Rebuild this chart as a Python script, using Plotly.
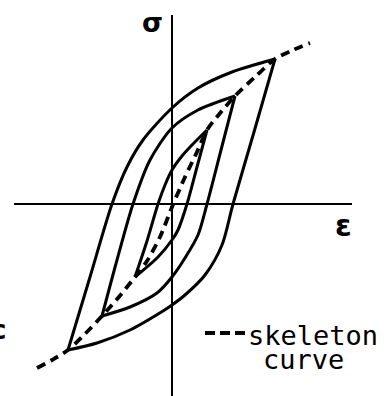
import plotly.graph_objects as go

# Hysteresis loops (strain eps, stress sig), one branch per list pair
outer_asc_eps = [-104, -82, -60, -45, -29, 0, 26, 60, 103]
outer_asc_sig = [-146, -73, 0, 37, 64, 96, 116, 132, 145]
outer_desc_eps = [103, 82, 61, 50, 33, 13, 0, -9, -42, -75, -104]
outer_desc_sig = [145, 72, 0, -41, -71, -91, -101, -107, -126, -139, -146]

middle_asc_eps = [-70, -55, -39, -22, 0, 26, 63]
middle_asc_sig = [-112, -56, 0, 44, 76, 94, 108]
middle_desc_eps = [63, 49, 35, 26, 13, 0, -15, -42, -70]
middle_desc_sig = [108, 54, 0, -31, -54, -73, -89, -103, -112]

inner_asc_eps = [-37, -25, -14, -7, 0, 10, 20, 35]
inner_asc_sig = [-73, -37, 0, 19, 34, 48, 59, 74]
inner_desc_eps = [35, 25, 15, 6, 0, -14, -37]
inner_desc_sig = [74, 37, 0, -26, -36, -53, -73]

# Skeleton curve through the loop tips
skeleton_eps = [-135, -120, -104, -87, -70, -54, -37, -25, -12, 0, 13, 25, 35, 49, 63, 83, 103, 121, 138]
skeleton_sig = [-164, -156, -146, -130, -112, -94, -73, -57, -33, -3, 27, 52, 74, 92, 108, 127, 145, 154, 161]

branches = [
    (outer_asc_eps, outer_asc_sig),
    (outer_desc_eps, outer_desc_sig),
    (middle_asc_eps, middle_asc_sig),
    (middle_desc_eps, middle_desc_sig),
    (inner_asc_eps, inner_asc_sig),
    (inner_desc_eps, inner_desc_sig),
]

fig = go.Figure()
for xs, ys in branches:
    fig.add_trace(go.Scatter(
        x=xs, y=ys, mode="lines",
        line=dict(color="black", width=3, shape="spline", smoothing=0.8),
        showlegend=False, hoverinfo="skip",
    ))

fig.add_trace(go.Scatter(
    x=skeleton_eps, y=skeleton_sig, mode="lines",
    line=dict(color="black", width=3.8, dash="9px,6px", shape="spline", smoothing=0.8),
    showlegend=False, hoverinfo="skip",
))

# Coordinate axes
fig.add_shape(type="line", x0=0, x1=0, y0=-192, y1=189,
              line=dict(color="black", width=2))
fig.add_shape(type="line", x0=-158, x1=180, y0=0, y1=0,
              line=dict(color="black", width=2))

# Legend sample for the skeleton curve
fig.add_shape(type="line", x0=33, x1=75, y0=-129, y1=-129,
              line=dict(color="black", width=3.8, dash="10px,5px"))

font = "DejaVu Sans"
mono = "DejaVu Sans Mono"
annotations = [
    dict(x=-20, y=182, text="<b>σ</b>", font=dict(family=font, size=27)),
    dict(x=171, y=-21, text="<b>ε</b>", font=dict(family=font, size=30)),
    dict(x=-164, y=-126, text="<b>c</b>", xanchor="right", font=dict(family=font, size=26)),
    dict(x=74, y=-131, text="skeleton", xanchor="left", yanchor="middle",
         font=dict(family=mono, size=27)),
    dict(x=89, y=-155, text="curve", xanchor="left", yanchor="middle",
         font=dict(family=mono, size=27)),
]
for a in annotations:
    a.setdefault("xanchor", "center")
    a.setdefault("yanchor", "middle")
    fig.add_annotation(showarrow=False, font_color="black", **a)

fig.update_layout(
    width=389, height=396,
    margin=dict(l=0, r=0, t=0, b=0, autoexpand=False),
    paper_bgcolor="white", plot_bgcolor="white",
    xaxis=dict(range=[-172, 217], visible=False, fixedrange=True),
    yaxis=dict(range=[-192, 204], visible=False, fixedrange=True),
)

fig.write_html("out.html")
